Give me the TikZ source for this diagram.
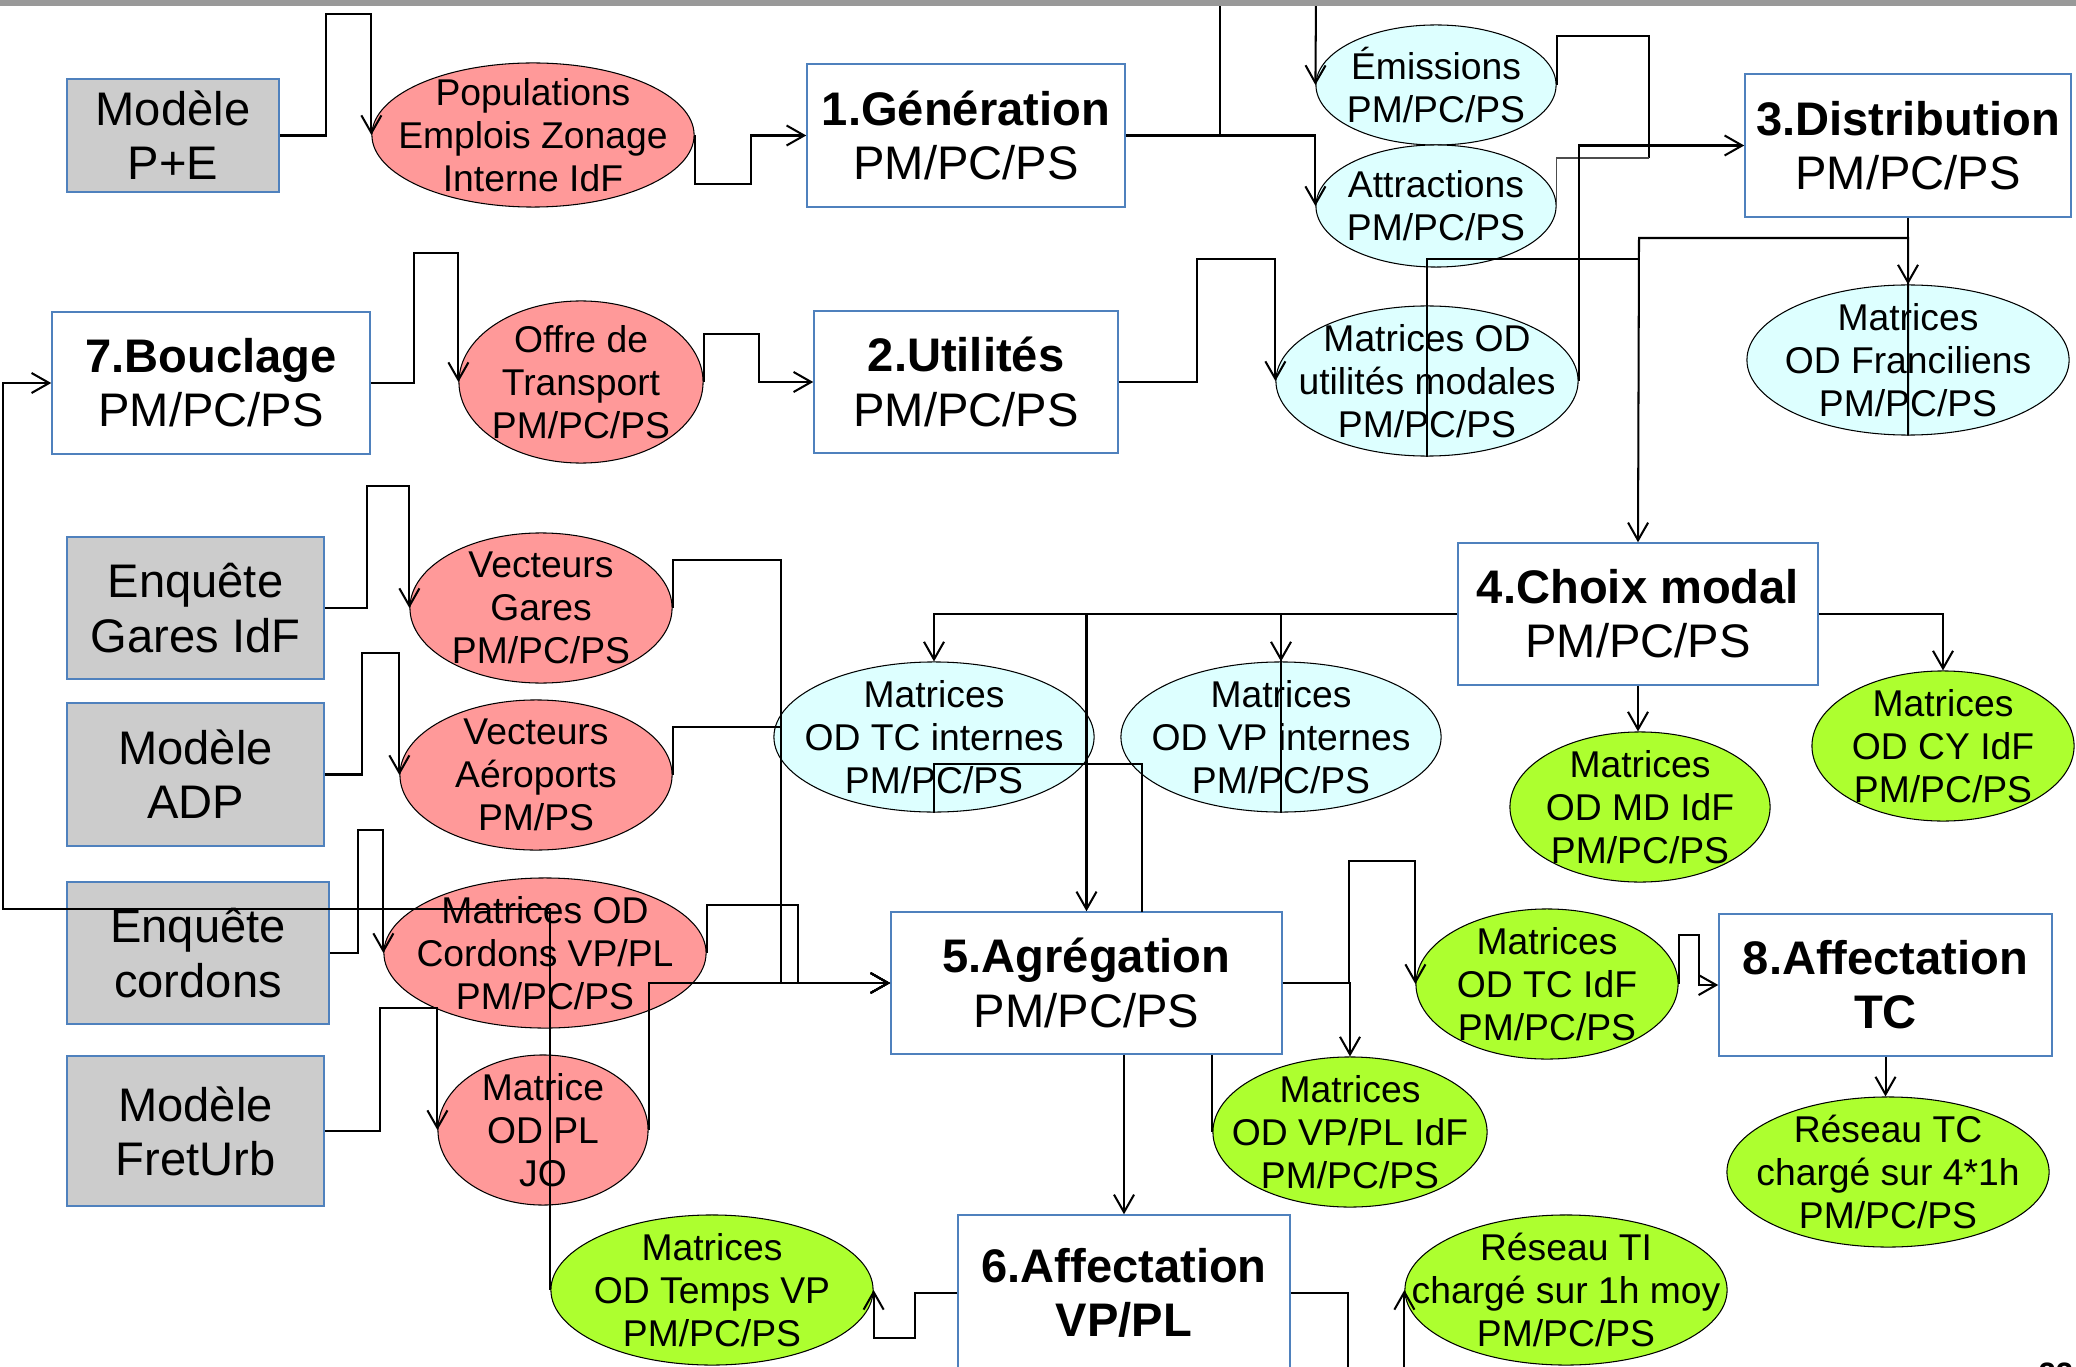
\documentclass[tikz,border=0pt]{standalone}
\usepackage{fontspec}
\setmainfont{Liberation Sans}
\usetikzlibrary{shapes.geometric,arrows.meta}
\definecolor{redf}{RGB}{255,153,153}
\definecolor{cyanf}{RGB}{221,255,255}
\definecolor{greenf}{RGB}{173,255,47}
\definecolor{grayf}{RGB}{204,204,204}
\definecolor{bordb}{RGB}{79,129,189}
\definecolor{barg}{RGB}{153,153,153}
\begin{document}
\begin{tikzpicture}[x=0.01cm,y=-0.01cm,
  box/.style={draw=bordb, line width=0.4pt, fill=white, rectangle, inner sep=0pt, align=center, font=\fontsize{13.4}{15.4}\selectfont},
  gbox/.style={box, fill=grayf},
  ell/.style={ellipse, draw=black, line width=0.3pt, inner sep=0pt},
  redell/.style={ell, fill=redf},
  cyell/.style={ell, fill=cyanf},
  grell/.style={ell, fill=greenf},
  etxt/.style={align=center, inner sep=0pt, font=\fontsize{10.6}{12.2}\selectfont},
  con/.style={line width=0.58pt, line join=miter},
  thincon/.style={line width=0.3pt, draw=black!70},
  arr/.style={con, -{Straight Barb[length=5pt,width=5.7pt]}},
]
\useasboundingbox (0,0) rectangle (2076,1367);
\clip (0,0) rectangle (2076,1367);
\fill[white] (0,0) rectangle (2076,1367);

% ---------- boxes ----------
\node[box, minimum width=3.18cm, minimum height=1.43cm] (gen) at (966,135.5) {\textbf{1.Génération}\\PM/PC/PS};
\node[box, minimum width=3.26cm, minimum height=1.43cm] (dist) at (1908,145.5) {\textbf{3.Distribution}\\PM/PC/PS};
\node[box, minimum width=3.18cm, minimum height=1.42cm] (bouc) at (211,383) {\textbf{7.Bouclage}\\PM/PC/PS};
\node[box, minimum width=3.04cm, minimum height=1.42cm] (util) at (966,382) {\textbf{2.Utilités}\\PM/PC/PS};
\node[box, minimum width=3.60cm, minimum height=1.42cm] (choix) at (1638,614) {\textbf{4.Choix modal}\\PM/PC/PS};
\node[box, minimum width=3.91cm, minimum height=1.42cm] (agr) at (1086.5,983) {\textbf{5.Agrégation}\\PM/PC/PS};
\node[box, minimum width=3.33cm, minimum height=1.42cm] (afftc) at (1885.5,985) {\textbf{8.Affectation}\\\textbf{TC}};
\node[box, minimum width=3.32cm, minimum height=1.56cm] (affvp) at (1124,1293) {\textbf{6.Affectation}\\\textbf{VP/PL}};

\node[gbox, minimum width=2.12cm, minimum height=1.13cm] (pe) at (173,135.5) {Modèle\\P+E};
\node[gbox, minimum width=2.57cm, minimum height=1.42cm] (gares) at (195.5,608) {Enquête\\Gares IdF};
\node[gbox, minimum width=2.57cm, minimum height=1.43cm] (adp) at (195.5,774.5) {Modèle\\ADP};
\node[gbox, minimum width=2.62cm, minimum height=1.42cm] (cord) at (198,953) {Enquête\\cordons};
\node[gbox, minimum width=2.57cm, minimum height=1.50cm] (fret) at (195.5,1131) {Modèle\\FretUrb};

% ---------- ellipses ----------
\node[redell, minimum width=3.22cm, minimum height=1.44cm] (pop) at (533,135) {};
\node[etxt] (popt) at (pop) {Populations\\Emplois Zonage\\Interne IdF};
\node[cyell, minimum width=2.40cm, minimum height=1.20cm] (emi) at (1436,85) {};
\node[etxt] (emit) at (emi) {Émissions\\PM/PC/PS};
\node[cyell, minimum width=2.40cm, minimum height=1.22cm] (attr) at (1436,206) {};
\node[etxt] (attrt) at (attr) {Attractions\\PM/PC/PS};
\node[cyell, minimum width=3.02cm, minimum height=1.50cm] (mutil) at (1427,381) {};
\node[etxt] (mutilt) at (mutil) {Matrices OD\\utilités modales\\PM/PC/PS};
\node[cyell, minimum width=3.22cm, minimum height=1.50cm] (franc) at (1908,360) {};
\node[etxt] (franct) at (franc) {Matrices\\OD Franciliens\\PM/PC/PS};
\node[redell, minimum width=2.44cm, minimum height=1.62cm] (offre) at (581,382) {};
\node[etxt] (offret) at (offre) {Offre de\\Transport\\PM/PC/PS};
\node[redell, minimum width=2.62cm, minimum height=1.50cm] (vgares) at (541,608) {};
\node[etxt] (vgarest) at (vgares) {Vecteurs\\Gares\\PM/PC/PS};
\node[redell, minimum width=2.72cm, minimum height=1.50cm] (vaero) at (536,775) {};
\node[etxt] (vaerot) at (vaero) {Vecteurs\\Aéroports\\PM/PS};
\node[redell, minimum width=3.22cm, minimum height=1.50cm] (mcord) at (545,953) {};
\node[etxt] (mcordt) at (mcord) {Matrices OD\\Cordons VP/PL\\PM/PC/PS};
\node[redell, minimum width=2.10cm, minimum height=1.50cm] (mpl) at (543,1130) {};
\node[etxt] (mplt) at (mpl) {Matrice\\OD PL\\JO};
\node[cyell, minimum width=3.20cm, minimum height=1.50cm] (mtc) at (934,737) {};
\node[etxt] (mtct) at (mtc) {Matrices\\OD TC internes\\PM/PC/PS};
\node[cyell, minimum width=3.20cm, minimum height=1.50cm] (mvp) at (1281,737) {};
\node[etxt] (mvpt) at (mvp) {Matrices\\OD VP internes\\PM/PC/PS};
\node[grell, minimum width=2.60cm, minimum height=1.50cm] (mmd) at (1640,807) {};
\node[etxt] (mmdt) at (mmd) {Matrices\\OD MD IdF\\PM/PC/PS};
\node[grell, minimum width=2.62cm, minimum height=1.50cm] (mcy) at (1943,746) {};
\node[etxt] (mcyt) at (mcy) {Matrices\\OD CY IdF\\PM/PC/PS};
\node[grell, minimum width=2.62cm, minimum height=1.50cm] (mtcidf) at (1547,984) {};
\node[etxt] (mtcidft) at (mtcidf) {Matrices\\OD TC IdF\\PM/PC/PS};
\node[grell, minimum width=2.74cm, minimum height=1.50cm] (mvpidf) at (1350,1132) {};
\node[etxt] (mvpidft) at (mvpidf) {Matrices\\OD VP/PL IdF\\PM/PC/PS};
\node[grell, minimum width=3.22cm, minimum height=1.50cm] (rtc) at (1888,1172) {};
\node[etxt] (rtct) at (rtc) {Réseau TC\\chargé sur 4*1h\\PM/PC/PS};
\node[grell, minimum width=3.22cm, minimum height=1.50cm] (rti) at (1566,1290) {};
\node[etxt] (rtit) at (rti) {Réseau TI\\chargé sur 1h moy\\PM/PC/PS};
\node[grell, minimum width=3.22cm, minimum height=1.50cm] (mtemps) at (712,1290) {};
\node[etxt] (mtempst) at (mtemps) {Matrices\\OD Temps VP\\PM/PC/PS};

% ---------- free ends ----------
\coordinate (topA) at (1220,0);
\coordinate (topB) at (1316,0);

% ---------- connectors ----------
\draw[arr] (pe.east) -| (326,14) -| (pop.west);
\draw[arr] (pop.east) |- (751,184) |- (gen.west);
\draw[arr] (gen.east) -| (attr.west);
\draw[con] (topA) |- (gen.east);
\draw[arr] (topB) -- (emi.west);
\draw[con] (emi.east) |- (1649,36) -- (1649,158);
\draw[thincon] (1649,158) -| (attr.east);
\draw[arr] (mutil.east) |- (dist.west);
\draw[arr] (util.east) -| (1197,259) -| (mutil.west);
\draw[arr] (dist.south) -- (franc.north);
\draw[arr] (franc.south) |- (1639,238) -- (choix.north);
\draw[con] (mutil.south) |- (1639,259);

\draw[arr] (bouc.east) -| (414,253) -| (offre.west);
\draw[arr] (offre.east) |- (759,334) |- (util.west);
\draw[arr] (mtemps.west) |- (3,909) |- (bouc.west);

\draw[arr] (gares.east) -| (367,486) -| (vgares.west);
\draw[arr] (adp.east) -| (362,653) -| (vaero.west);
\draw[arr] (cord.east) -| (358,830) -| (mcord.west);
\draw[arr] (fret.east) -| (380,1008) -| (mpl.west);

\draw[arr] (vgares.east) |- (781,560) |- (agr.west);
\draw[arr] (vaero.east) |- (781,727) |- (agr.west);
\draw[arr] (mcord.east) |- (798,905) |- (agr.west);
\draw[arr] (mpl.east) |- (agr.west);

\draw[con] (mtc.south) |- (1142,764) -- (1142,912);
\draw[arr] (choix.west) -| (mtc.north);
\draw[arr] (choix.west) -| (mvp.north);
\draw[arr] (mvp.south) |- (1086.5,614) -- (agr.north);
\draw[arr] (choix.east) -| (mcy.north);
\draw[arr] (choix.south) -- (choix.south |- mmd.north);

\draw[arr] (agr.east) -| (mvpidf.north);
\draw[arr] (agr.east) -| (1349,861) -| (mtcidf.west);
\draw[arr] (mtcidf.east) |- (1699,935) |- (afftc.west);
\draw[arr] (afftc.south) -- (afftc.south |- rtc.north);
\draw[arr] (agr.south -| affvp.north) -- (affvp.north);
\draw[con] (agr.south -| mvpidf.west) -- (mvpidf.west);
\draw[arr] (affvp.west) -| (915,1338) -| (mtemps.east);
\draw[arr] (affvp.east) -| (1348,1400) -| (rti.west);

% ---------- top bar and page number ----------
\fill[barg] (0,0) rectangle (2076,6);
\node[font=\bfseries\fontsize{8.8}{10}\selectfont, anchor=base west, inner sep=0pt] (pg) at (2038,1384) {22};
\end{tikzpicture}
\end{document}
